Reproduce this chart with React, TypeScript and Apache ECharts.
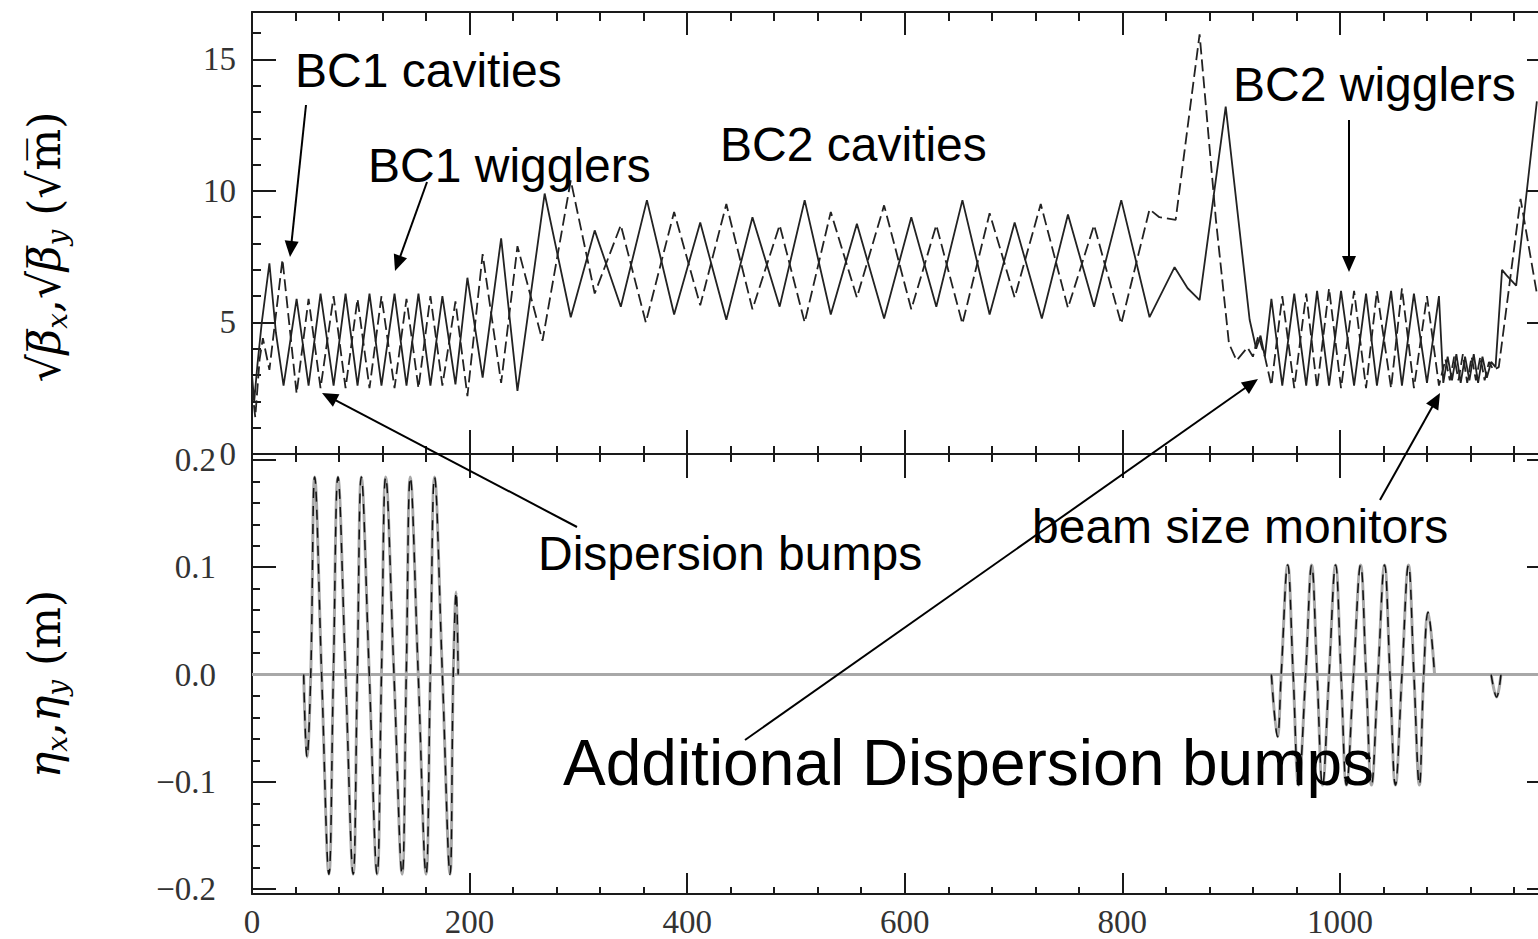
import React, { useEffect, useRef } from 'react';
import * as echarts from 'echarts';

// ---------------- data ----------------
const S_MAX = 1194;
const BETA_MAX = 16.8;
const ETA_MIN = -0.2045;
const ETA_MAX = 0.2055;

const xMajorTicks = [0, 200, 400, 600, 800, 1000];
const xMinorTicks = [40, 80, 120, 160, 240, 280, 320, 360, 440, 480, 520, 560, 640, 680, 720, 760, 840, 880, 920, 960, 1040, 1080, 1120, 1160];
const betaMajorTicks = [0, 5, 10, 15];
const betaMinorTicks = [1, 2, 3, 4, 6, 7, 8, 9, 11, 12, 13, 14, 16];
const etaMajorTicks = [-0.2, -0.1, 0, 0.1, 0.2];
const etaMinorTicks = [-0.18, -0.16, -0.14, -0.12, -0.08, -0.06, -0.04, -0.02, 0.02, 0.04, 0.06, 0.08, 0.12, 0.14, 0.16, 0.18];

// sqrt(beta_x) (solid)
const sqrtBetaX: [number, number][] = [
  [0, 3.0], [2, 2.0], [5, 3.4], [9, 5.0], [16, 7.25], [22, 4.6], [29, 2.6], [41, 5.9], [52, 2.6], [63, 6.1],
  [75, 2.6], [86, 6.1], [97, 2.6], [108, 6.1], [119, 2.6], [131, 6.1], [142, 2.6], [153, 6.1], [164, 2.6],
  [175, 6.0], [187, 2.65], [198, 6.7], [212, 2.9], [229, 8.2], [244, 2.4], [269, 9.9], [293, 5.2], [315, 8.5],
  [339, 5.6], [363, 9.65], [388, 5.3], [412, 8.8], [436, 5.1], [460, 9.0], [485, 5.6], [508, 9.65], [532, 5.3],
  [556, 8.75], [581, 5.15], [606, 9.0], [629, 5.6], [653, 9.65], [678, 5.3], [701, 8.8], [726, 5.15], [750, 9.1],
  [774, 5.6], [799, 9.65], [825, 5.2], [848, 7.1], [860, 6.3], [871, 5.85], [895, 13.2], [917, 5.1], [923, 4.0],
  [927, 4.5], [931, 3.7], [937, 5.9], [947, 2.6], [958, 6.1], [969, 2.6], [979, 6.2], [990, 2.6], [1001, 6.2],
  [1013, 2.6], [1024, 6.1], [1034, 2.6], [1047, 6.2], [1057, 2.6], [1068, 6.1], [1080, 2.7], [1091, 6.0],
  [1095, 2.7], [1099, 3.7], [1103, 2.8], [1107, 3.8], [1111, 2.7], [1115, 3.7], [1119, 2.8], [1123, 3.8],
  [1127, 2.7], [1131, 3.7], [1135, 2.9], [1139, 3.5], [1143, 3.3], [1149, 7.0], [1153, 6.8], [1162, 6.4],
  [1181, 13.4],
];

// sqrt(beta_y) (dashed)
const sqrtBetaY: [number, number][] = [
  [0, 2.5], [3, 1.4], [7, 3.6], [10, 4.4], [16, 3.2], [28, 7.4], [41, 2.3], [52, 5.9], [63, 2.5], [75, 6.0],
  [86, 2.5], [97, 5.9], [108, 2.5], [119, 6.0], [131, 2.5], [142, 5.9], [153, 2.5], [164, 6.0], [175, 2.6],
  [187, 5.8], [198, 2.2], [212, 7.6], [229, 2.7], [244, 7.9], [267, 4.3], [293, 10.4], [315, 6.1], [339, 8.7],
  [362, 5.0], [388, 9.2], [412, 5.65], [436, 9.5], [460, 5.5], [485, 8.7], [508, 5.0], [532, 9.2], [556, 5.95],
  [581, 9.45], [606, 5.5], [629, 8.7], [653, 4.95], [678, 9.15], [701, 5.95], [725, 9.5], [750, 5.55], [774, 8.7],
  [799, 4.95], [825, 9.3], [834, 9.0], [849, 8.9], [871, 15.95], [886, 8.9], [898, 4.2], [905, 3.55], [915, 4.05],
  [920, 3.7], [925, 4.5], [931, 3.7], [937, 2.6], [947, 6.0], [958, 2.5], [969, 6.1], [979, 2.5], [990, 6.3],
  [1001, 2.5], [1013, 6.2], [1024, 2.5], [1034, 6.2], [1047, 2.5], [1057, 6.3], [1068, 2.5], [1080, 6.0],
  [1091, 2.6], [1097, 3.6], [1101, 2.8], [1105, 3.7], [1109, 2.8], [1113, 3.8], [1117, 2.7], [1121, 3.7],
  [1125, 2.8], [1129, 3.7], [1133, 2.8], [1137, 3.5], [1141, 3.2], [1146, 3.3], [1156, 6.5], [1166, 9.7],
  [1181, 6.1],
];

// eta_x, BC1 dispersion bumps
const etaXBC1: [number, number][] = [
  [47.5, 0], [50.5, -0.077], [54, 0], [57.6, 0.184], [64, 0], [70.7, -0.186], [74.8, 0], [79, 0.184], [86, 0],
  [93, -0.186], [96.8, 0], [100.5, 0.184], [107.8, 0], [115, -0.186], [119, 0], [122.9, 0.184], [130.5, 0],
  [138, -0.186], [141.8, 0], [145.5, 0.184], [152.8, 0], [160, -0.186], [163.9, 0], [167.8, 0.184], [175, 0],
  [182, -0.186], [185, 0], [187.7, 0.077], [189.5, 0],
];
// eta_x, BC2 dispersion bumps
const etaXBC2: [number, number][] = [
  [937, 0], [942.6, -0.058], [946, 0], [952, 0.102], [957, 0], [962, -0.103], [968.5, 0], [974, 0.102], [979, 0],
  [984, -0.103], [990, 0], [996, 0.102], [1001, 0], [1006, -0.103], [1012.5, 0], [1019, 0.102], [1024, 0],
  [1029, -0.103], [1035, 0], [1041, 0.102], [1046, 0], [1051, -0.103], [1057, 0], [1063, 0.102], [1068, 0],
  [1073, -0.103], [1077, 0], [1081, 0.058], [1087, 0],
];
const etaXDip: [number, number][] = [[1139, 0], [1144, -0.021], [1148, 0]];
const etaY: [number, number][] = [[0, 0], [S_MAX, 0]];

// ---------------- styles ----------------
const AX = '#1a1a1a';
const LBL = { color: '#333', fontFamily: 'Liberation Serif', fontSize: 33 };

function axis(gridIndex: number, position: string, min: number, max: number, ticks: number[], len: number, line: boolean, label?: any) {
  return {
    type: 'value', gridIndex, position, min, max,
    axisLine: { show: line, onZero: false, lineStyle: { color: AX, width: 2 } },
    axisTick: { show: true, inside: true, length: len, customValues: ticks, lineStyle: { color: AX, width: 2 } },
    axisLabel: label ? { show: true, ...label } : { show: false },
    splitLine: { show: false },
    minorTick: { show: false },
  };
}

function arrow(x1: number, y1: number, x2: number, y2: number) {
  const dx = x2 - x1, dy = y2 - y1, L = Math.hypot(dx, dy);
  const ux = dx / L, uy = dy / L;
  const hl = 16, hw = 7;
  const bx = x2 - ux * hl, by = y2 - uy * hl;
  return [
    { type: 'line', z: 100, shape: { x1, y1, x2: bx + ux * 2, y2: by + uy * 2 }, style: { stroke: '#000', lineWidth: 2 } },
    { type: 'polygon', z: 100, shape: { points: [[x2, y2], [bx - uy * hw, by + ux * hw], [bx + uy * hw, by - ux * hw]] }, style: { fill: '#000' } },
  ];
}

function note(text: string, x: number, y: number, size = 48) {
  return {
    type: 'text', x, y, z: 100,
    style: { text, fontSize: size, fontFamily: 'Liberation Sans', fill: '#000', textAlign: 'left', textVerticalAlign: 'middle', align: 'left', verticalAlign: 'middle' },
  };
}

const titleRich = {
  g: { fontFamily: 'DejaVu Serif', fontStyle: 'italic', fontSize: 44, lineHeight: 54, color: '#333' },
  r: { fontFamily: 'DejaVu Serif', fontSize: 44, lineHeight: 54, color: '#333' },
  s: { fontFamily: 'DejaVu Serif', fontStyle: 'italic', fontSize: 28, lineHeight: 28, verticalAlign: 'bottom', color: '#333' },
};

const option: any = {
  animation: false,
  backgroundColor: '#fff',
  textStyle: { fontFamily: 'Liberation Serif' },
  grid: [
    { left: 252, top: 12, width: 1299, height: 442 },
    { left: 252, top: 454, width: 1299, height: 440 },
  ],
  xAxis: [
    axis(0, 'bottom', 0, S_MAX, xMajorTicks, 24, true),
    axis(0, 'bottom', 0, S_MAX, xMinorTicks, 8, false),
    axis(0, 'top', 0, S_MAX, xMajorTicks, 23, true),
    axis(0, 'top', 0, S_MAX, xMinorTicks, 9, false),
    axis(1, 'bottom', 0, S_MAX, xMajorTicks, 21, true, { customValues: xMajorTicks, margin: 11, ...LBL, formatter: (v: number) => String(v) }),
    axis(1, 'bottom', 0, S_MAX, xMinorTicks, 7, false),
    axis(1, 'top', 0, S_MAX, xMajorTicks, 24, true),
    axis(1, 'top', 0, S_MAX, xMinorTicks, 8, false),
  ],
  yAxis: [
    axis(0, 'left', 0, BETA_MAX, betaMajorTicks, 24, true, { customValues: betaMajorTicks, margin: 16, ...LBL, formatter: (v: number) => String(v) }),
    axis(0, 'left', 0, BETA_MAX, betaMinorTicks, 9, false),
    axis(0, 'right', 0, BETA_MAX, betaMajorTicks, 24, true),
    axis(0, 'right', 0, BETA_MAX, betaMinorTicks, 9, false),
    axis(1, 'left', ETA_MIN, ETA_MAX, etaMajorTicks, 24, true, {
      customValues: etaMajorTicks, margin: 36, ...LBL,
      formatter: (v: number) => (v < -1e-9 ? '\u2212' : '') + Math.abs(v).toFixed(1),
    }),
    axis(1, 'left', ETA_MIN, ETA_MAX, etaMinorTicks, 8, false),
    axis(1, 'right', ETA_MIN, ETA_MAX, etaMajorTicks, 24, true),
    axis(1, 'right', ETA_MIN, ETA_MAX, etaMinorTicks, 8, false),
  ],
  series: [
    { name: 'sqrt beta x', type: 'line', xAxisIndex: 0, yAxisIndex: 0, data: sqrtBetaX, symbol: 'none', lineStyle: { color: '#222', width: 1.8 }, z: 3 },
    { name: 'sqrt beta y', type: 'line', xAxisIndex: 0, yAxisIndex: 0, data: sqrtBetaY, symbol: 'none', lineStyle: { color: '#222', width: 1.8, type: [12, 5] }, z: 3 },
    { name: 'eta y', type: 'line', xAxisIndex: 4, yAxisIndex: 4, data: etaY, symbol: 'none', lineStyle: { color: '#a8a8a8', width: 3 }, z: 2 },
    ...[etaXBC1, etaXBC2, etaXDip].map((d) => ({ name: 'eta x', type: 'line', xAxisIndex: 4, yAxisIndex: 4, data: d, symbol: 'none', smooth: 0.4, lineStyle: { color: '#a8a8a8', width: 3 }, z: 3 })),
    ...[etaXBC1, etaXBC2, etaXDip].map((d) => ({ name: 'eta x dashed', type: 'line', xAxisIndex: 4, yAxisIndex: 4, data: d, symbol: 'none', smooth: 0.4, lineStyle: { color: '#111', width: 1.5, type: [10, 8] }, z: 4 })),
  ],
  graphic: [
    {
      type: 'text', x: 44, y: 247, rotation: Math.PI / 2, z: 100,
      style: { text: '{g|\u221A\u03B2\u0305}{s|x}{r|,}{g|\u221A\u03B2\u0305}{s|y}{r| (\u221Am\u0305)}', rich: titleRich, textAlign: 'center', textVerticalAlign: 'middle', align: 'center', verticalAlign: 'middle' },
    },
    {
      type: 'text', x: 44, y: 684, rotation: Math.PI / 2, z: 100,
      style: { text: '{g|\u03B7}{s|x}{r|,}{g|\u03B7}{s|y}{r| (m)}', rich: titleRich, textAlign: 'center', textVerticalAlign: 'middle', align: 'center', verticalAlign: 'middle' },
    },
    note('BC1 cavities', 295, 70),
    note('BC1 wigglers', 368, 165),
    note('BC2 cavities', 720, 144),
    note('BC2 wigglers', 1233, 84),
    note('Dispersion bumps', 538, 553),
    note('beam size monitors', 1032, 526),
    note('Additional Dispersion bumps', 563, 763, 64),
    ...arrow(306, 105, 290, 257),
    ...arrow(427, 182, 395, 271),
    ...arrow(577, 527, 322, 393),
    ...arrow(745, 740, 1258, 379),
    ...arrow(1380, 500, 1440, 393),
    ...arrow(1349, 120, 1349, 272),
  ],
};

export default function App() {
  const ref = useRef<HTMLDivElement>(null);
  useEffect(() => {
    document.body.style.margin = '0';
    const chart = echarts.init(ref.current!, null, { renderer: 'svg' });
    chart.setOption(option);
    return () => chart.dispose();
  }, []);
  return (
    <div style={{ width: 1538, height: 939, overflow: 'hidden', background: '#fff' }}>
      <div ref={ref} style={{ width: 1560, height: 939 }} />
    </div>
  );
}
